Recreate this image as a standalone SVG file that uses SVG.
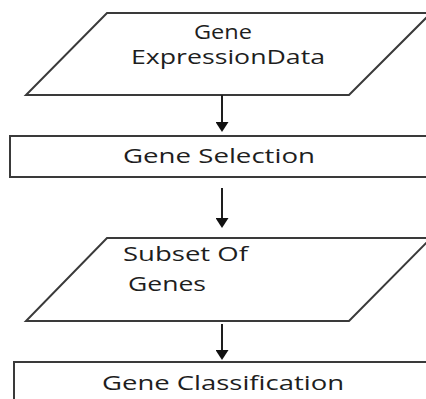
<svg xmlns="http://www.w3.org/2000/svg" width="426" height="399" viewBox="0 0 426 399">
  <style>
    .shape { fill: #ffffff; stroke: #3a3a3a; stroke-width: 2; }
    .label { font-family: "Open Sans", "Liberation Sans", sans-serif; font-size: 20px; fill: #1e1e1e; }
    .link { stroke: #1e1e1e; stroke-width: 2; fill: none; marker-end: url(#head); }
  </style>
  <defs>
    <marker id="head" markerUnits="userSpaceOnUse" viewBox="0 0 10 13" refX="7" refY="6.5" markerWidth="10" markerHeight="13" orient="auto">
      <path d="M0,0 L10,6.5 L0,13 z" fill="#111111"/>
    </marker>
  </defs>
  <rect width="426" height="399" fill="#ffffff"/>

  <g id="expression-data">
    <polygon class="shape" points="107,13 431,13 349,95 26,95"/>
    <text class="label" x="194" y="39" textLength="58" lengthAdjust="spacingAndGlyphs">Gene</text>
    <text class="label" x="131" y="64" textLength="194" lengthAdjust="spacingAndGlyphs">ExpressionData</text>
  </g>

  <g id="gene-selection">
    <rect class="shape" x="10" y="136" width="430" height="41"/>
    <text class="label" x="123" y="163" textLength="192" lengthAdjust="spacingAndGlyphs">Gene Selection</text>
  </g>

  <g id="subset-of-genes">
    <polygon class="shape" points="107,238 431,238 349,321 26,321"/>
    <text class="label" x="123" y="261" textLength="125" lengthAdjust="spacingAndGlyphs">Subset Of</text>
    <text class="label" x="128" y="291" textLength="78" lengthAdjust="spacingAndGlyphs">Genes</text>
  </g>

  <g id="gene-classification">
    <rect class="shape" x="14" y="362" width="430" height="60"/>
    <text class="label" x="102" y="390" textLength="242" lengthAdjust="spacingAndGlyphs">Gene Classification</text>
  </g>

  <g id="connectors">
    <line class="link" x1="222" y1="95" x2="222" y2="129"/>
    <line class="link" x1="222" y1="188" x2="222" y2="225"/>
    <line class="link" x1="222" y1="324" x2="222" y2="357"/>
  </g>
</svg>
